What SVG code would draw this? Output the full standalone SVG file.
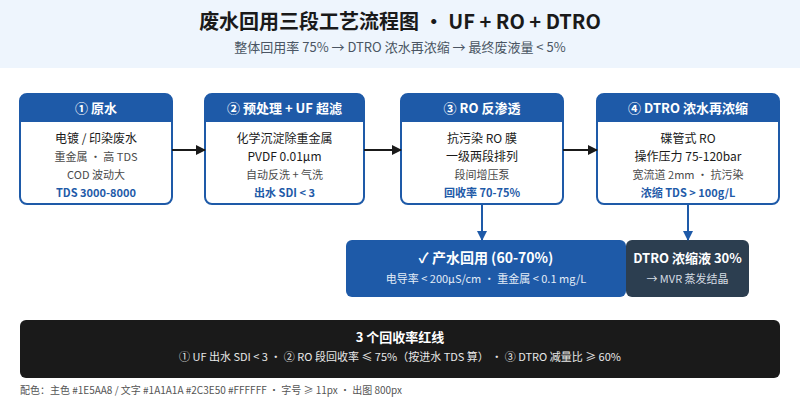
<svg xmlns="http://www.w3.org/2000/svg" width="800" height="400" viewBox="0 0 800 400">
<defs>
<style>
text{font-family:"Noto Sans CJK SC","Noto Sans",sans-serif;text-anchor:middle}
.hd{fill:#FFFFFF;font-size:13px;font-weight:700}
.b1{fill:#1A1A1A;font-size:12px}
.b2{fill:#4A4A4A;font-size:11px}
.b3{fill:#1E5AA8;font-size:11px;font-weight:700}
.box{fill:#FFFFFF;stroke:#1E5AA8;stroke-width:2}
.hbar{fill:#1E5AA8}
</style>
<marker id="ak" viewBox="0 0 10 10" refX="9" refY="5" markerWidth="10" markerHeight="10" markerUnits="userSpaceOnUse" orient="auto"><path d="M0,0 L10,5 L0,10 z" fill="#1A1A1A"/></marker>
<marker id="ab" viewBox="0 0 10 10" refX="9" refY="5" markerWidth="10" markerHeight="10" markerUnits="userSpaceOnUse" orient="auto"><path d="M0,0 L10,5 L0,10 z" fill="#1E5AA8"/></marker>
</defs>
<rect width="800" height="400" fill="#FFFFFF"/>
<rect width="800" height="68" fill="#EEF5FD"/>
<text x="400" y="29" style="font-size:20px;font-weight:700;fill:#1A1A1A">废水回用三段工艺流程图 · UF + RO + DTRO</text>
<text x="400" y="52" style="font-size:13px;fill:#4A5563">整体回用率 75% → DTRO 浓水再浓缩 → 最终废液量 &lt; 5%</text>

<g id="n1">
<rect class="box" x="20" y="94" width="152" height="110" rx="7"/>
<path class="hbar" d="M20,122 V101 A7,7 0 0 1 27,94 H165 A7,7 0 0 1 172,101 V122 Z"/>
<text class="hd" x="96" y="113">① 原水</text>
<text class="b1" x="96" y="143">电镀 / 印染废水</text>
<text class="b2" x="96" y="161">重金属 · 高 TDS</text>
<text class="b2" x="96" y="179">COD 波动大</text>
<text class="b3" x="96" y="197">TDS 3000-8000</text>
</g>
<g id="n2">
<rect class="box" x="205" y="94" width="159" height="110" rx="7"/>
<path class="hbar" d="M205,122 V101 A7,7 0 0 1 212,94 H357 A7,7 0 0 1 364,101 V122 Z"/>
<text class="hd" x="284.500" y="113">② 预处理 + UF 超滤</text>
<text class="b1" x="284.500" y="143">化学沉淀除重金属</text>
<text class="b1" x="284.500" y="161">PVDF 0.01μm</text>
<text class="b2" x="284.500" y="179">自动反洗 + 气洗</text>
<text class="b3" x="284.500" y="197">出水 SDI &lt; 3</text>
</g>
<g id="n3">
<rect class="box" x="401" y="94" width="162" height="110" rx="7"/>
<path class="hbar" d="M401,122 V101 A7,7 0 0 1 408,94 H556 A7,7 0 0 1 563,101 V122 Z"/>
<text class="hd" x="482" y="113">③ RO 反渗透</text>
<text class="b1" x="482" y="143">抗污染 RO 膜</text>
<text class="b1" x="482" y="161">一级两段排列</text>
<text class="b2" x="482" y="179">段间增压泵</text>
<text class="b3" x="482" y="197">回收率 70-75%</text>
</g>
<g id="n4">
<rect class="box" x="597" y="94" width="182" height="110" rx="7"/>
<path class="hbar" d="M597,122 V101 A7,7 0 0 1 604,94 H772 A7,7 0 0 1 779,101 V122 Z"/>
<text class="hd" x="688" y="113">④ DTRO 浓水再浓缩</text>
<text class="b1" x="688" y="143">碟管式 RO</text>
<text class="b1" x="688" y="161">操作压力 75-120bar</text>
<text class="b2" x="688" y="179">宽流道 2mm · 抗污染</text>
<text class="b3" x="688" y="197">浓缩 TDS &gt; 100g/L</text>
</g>
<g id="n5">
<rect x="346" y="240" width="280" height="57" rx="6" fill="#1E5AA8"/>
<text x="486" y="263" style="font-size:14px;font-weight:700;fill:#FFFFFF">✓ 产水回用 (60-70%)</text>
<text x="486" y="283" style="font-size:11px;fill:#E3ECF7">电导率 &lt; 200μS/cm · 重金属 &lt; 0.1 mg/L</text>
</g>
<g id="n6">
<rect x="626" y="240" width="123" height="57" rx="6" fill="#2C3E50"/>
<text x="687.500" y="263" style="font-size:13px;font-weight:700;fill:#FFFFFF">DTRO 浓缩液 30%</text>
<text x="687.500" y="283" style="font-size:11px;fill:#D5DCE3">→ MVR 蒸发结晶</text>
</g>
<g id="connectors" fill="none" stroke-width="2">
<line x1="172" y1="150" x2="205" y2="150" stroke="#1A1A1A" marker-end="url(#ak)"/>
<line x1="364" y1="150" x2="401" y2="150" stroke="#1A1A1A" marker-end="url(#ak)"/>
<line x1="563" y1="150" x2="597" y2="150" stroke="#1A1A1A" marker-end="url(#ak)"/>
<line x1="482" y1="205" x2="482" y2="240" stroke="#1E5AA8" marker-end="url(#ab)"/>
<line x1="688" y1="205" x2="688" y2="240" stroke="#1E5AA8" marker-end="url(#ab)"/>
</g>
<g id="redline">
<rect x="20" y="320" width="760" height="58" rx="6" fill="#1A1A1A"/>
<text x="400" y="342" style="font-size:13px;font-weight:700;fill:#FFFFFF">3 个回收率红线</text>
<text x="400" y="361" style="font-size:11px;fill:#E8E8E8">① UF 出水 SDI &lt; 3 · ② RO 段回收率 ≤ 75%（按进水 TDS 算） · ③ DTRO 减量比 ≥ 60%</text>
</g>
<text x="20" y="394" style="font-size:10px;fill:#555555;text-anchor:start">配色：主色 #1E5AA8 / 文字 #1A1A1A #2C3E50 #FFFFFF · 字号 ≥ 11px · 出图 800px</text>
</svg>
